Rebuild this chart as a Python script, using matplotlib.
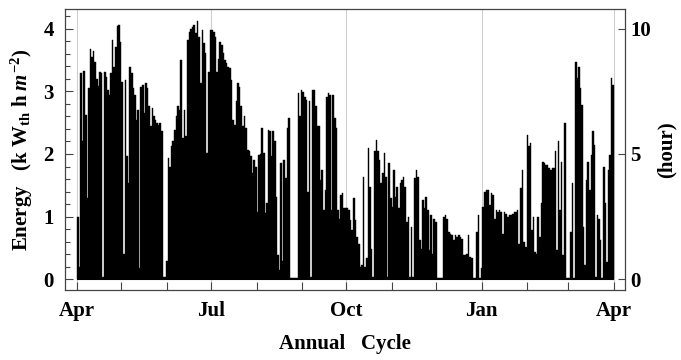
import numpy as np
import matplotlib
matplotlib.use("Agg")
import matplotlib.pyplot as plt

plt.rcParams['font.family'] = ['Liberation Serif', 'DejaVu Serif']
plt.rcParams['font.weight'] = 'bold'
plt.rcParams['mathtext.fontset'] = 'custom'
plt.rcParams['mathtext.rm'] = 'Liberation Serif:bold'
plt.rcParams['mathtext.it'] = 'Liberation Serif:italic:bold'

# daily peak energy (kWth h m^-2), one list per stretch of the year
# stretch boundaries in days after 1 April
period_days = [0, 58.2, 121.0, 182.2, 243.3, 304.5, 365]

apr_may = [1.0, 0.2, 3.29, 2.2, 3.32, 2.62, 1.29, 3.05, 3.67, 3.55, 3.65, 3.47, 3.19, 3.09,
           3.31, 3.29, 0.04, 3.31, 3.23, 3.02, 2.94, 3.29, 3.82, 3.39, 3.71, 4.04, 4.06, 3.79,
           3.15, 0.41, 3.18, 1.96, 1.53, 3.39, 3.29, 3.05, 2.94, 2.54, 2.70, 0.18, 3.07, 3.10,
           2.65, 3.13, 3.05, 2.76, 2.44, 2.73, 2.60, 2.54, 2.49, 2.46, 2.49, 2.36]
jun_jul = [0.04, 0.04, 0.3, 1.93, 1.8, 2.12, 2.2, 2.38, 2.6, 2.76, 2.7, 3.5, 2.25, 2.7, 2.28,
           3.82, 3.95, 4.0, 4.03, 4.06, 3.93, 4.13, 3.87, 3.13, 3.98, 3.77, 3.61, 2.01, 3.31,
           3.98, 3.98, 3.95, 3.87, 3.31, 3.52, 3.79, 3.74, 3.61, 3.5, 3.45, 3.39, 3.37, 3.18,
           2.54, 2.46, 2.84, 3.13, 3.07, 2.76, 2.44, 2.6, 2.41, 2.06, 2.04, 1.96, 1.69, 1.91]
aug_sep = [1.8, 1.08, 1.99, 2.0, 2.41, 2.01, 1.06, 1.21, 2.38, 2.36, 1.96, 2.37, 2.2, 1.32,
           0.39, 0.15, 1.85, 0.3, 1.9, 1.61, 2.41, 2.58, 0.02, 0.02, 0.02, 0.02, 0.02, 2.97,
           2.6, 3.02, 2.99, 2.91, 2.86, 1.4, 2.84, 0.04, 3.02, 3.02, 2.76, 2.44, 2.44, 1.59,
           1.74, 1.1, 1.43, 2.91, 2.97, 2.94, 1.1, 2.94, 2.57, 2.41, 1.1, 0.97, 1.35, 1.37, 1.13]
oct_nov = [1.13, 1.13, 1.1, 0.95, 0.79, 1.29, 0.95, 0.68, 0.57, 0.2, 0.23, 1.64, 0.2, 0.34,
           2.09, 1.48, 0.49, 0.04, 2.04, 2.22, 2.04, 1.9, 1.53, 1.69, 2.01, 1.64, 0.04, 1.85,
           1.29, 1.16, 1.74, 1.32, 1.48, 1.13, 1.53, 1.59, 1.64, 1.48, 0.92, 1.0, 0.04, 0.84,
           0.04, 1.61, 1.74, 1.64, 0.63, 0.49, 1.27, 1.13, 1.32, 1.1, 0.47, 1.03, 0.41, 0.97]
dec_jan = [0.92, 0.02, 0.02, 0.02, 0.02, 1.0, 1.03, 0.97, 0.76, 0.73, 0.71, 0.63, 0.71, 0.68,
           0.71, 0.68, 0.65, 0.39, 0.39, 0.41, 0.71, 0.36, 0.34, 0.02, 0.02, 0.76, 1.03, 0.02,
           0.18, 1.16, 1.4, 1.43, 1.43, 1.19, 1.37, 1.35, 0.97, 1.1, 1.08, 1.1, 1.08, 0.73,
           1.08, 1.05, 1.0, 1.03, 1.03, 1.05, 1.08, 1.08, 1.1, 0.57, 1.45, 1.74, 0.6]
feb_mar = [0.52, 2.3, 2.12, 2.17, 0.79, 1.0, 0.44, 0.41, 1.0, 0.68, 1.21, 1.88, 1.85, 1.82,
           1.82, 1.77, 1.74, 1.77, 1.77, 2.04, 0.47, 2.2, 1.1, 1.88, 0.39, 2.49, 0.02, 0.02,
           0.02, 0.76, 1.53, 0.02, 3.47, 3.21, 3.39, 3.05, 2.78, 0.84, 0.23, 1.59, 1.88, 1.43,
           1.98, 2.36, 2.14, 0.04, 1.03, 0.97, 0.63, 0.02, 1.8, 1.21, 0.28, 1.74, 1.98, 3.21, 3.1]

periods = [apr_may, jun_jul, aug_sep, oct_nov, dec_jan, feb_mar]

month_days = [0, 30, 61, 91, 122, 153, 183, 214, 244, 275, 306, 334, 365]
label_days = [0, 91, 183, 275, 365]
label_names = ['Apr', 'Jul', 'Oct', 'Jan', 'Apr']
hour_ticks = [0, 5, 10]
hours_per_unit = 2.5

fig = plt.figure(figsize=(6.81, 3.6), dpi=100)
ax = fig.add_axes([0.0954, 0.1944, 0.8224, 0.7806])

for gx in label_days:
    ax.axvline(gx, color='#cfcfcf', lw=0.8, zorder=0)

for i, vals in enumerate(periods):
    x0, x1 = period_days[i], period_days[i + 1]
    w = (x1 - x0) / len(vals)
    x = x0 + w * (np.arange(len(vals)) + 0.5)
    ax.bar(x, vals, width=w, color='black', edgecolor='black', linewidth=0.3, zorder=2)
ax.hlines(0, period_days[0], period_days[-1], color='black', lw=1.5, zorder=2)

ax.set_xlim(-8.2, 372.5)
ax.set_ylim(-0.171, 4.314)

ax.set_xticks(label_days)
ax.set_xticklabels(label_names)
ax.set_xticks([d for d in month_days if d not in label_days], minor=True)
ax.set_yticks([0, 1, 2, 3, 4])
ax.set_yticks(np.arange(0, 4.31, 0.2), minor=True)

ax.tick_params(which='both', direction='in', top=False, right=False, color='#444444',
               labelsize=15, width=0.8)
ax.tick_params(axis='x', which='both', length=6, pad=8)
ax.tick_params(axis='y', which='major', length=6, pad=8)
ax.tick_params(axis='y', which='minor', length=3.5)
for s in ax.spines.values():
    s.set_color('#444444')
    s.set_linewidth(0.9)

ax.set_xlabel('Annual   Cycle', fontsize=15, fontweight='bold', labelpad=9)
ax.set_ylabel(r'Energy   (k W$_{\rm th}$ h $m^{-2}$)', fontsize=15, fontweight='bold', labelpad=6)

ax2 = ax.twinx()
ax2.set_ylim(ax.get_ylim()[0] * hours_per_unit, ax.get_ylim()[1] * hours_per_unit)
ax2.set_yticks(hour_ticks)
ax2.tick_params(direction='in', length=5, labelsize=15, pad=4, color='#444444', width=0.8)
for s in ax2.spines.values():
    s.set_visible(False)
ax2.set_ylabel('(hour)', fontsize=15, fontweight='bold', labelpad=4)

fig.savefig('out.png', dpi=100)
